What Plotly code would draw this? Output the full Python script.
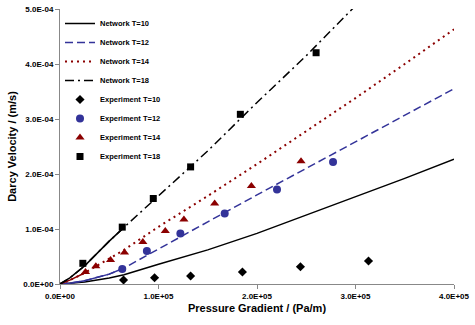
import plotly.graph_objects as go

# network model curves (pressure gradient Pa/m -> darcy velocity m/s)
NET_X = [0, 0.1e5, 0.25e5, 0.5e5, 0.65e5, 1.0e5, 1.5e5, 2.0e5, 2.5e5, 3.0e5, 3.5e5, 4.0e5]
NET_T10 = [0, 0.01e-4, 0.035e-4, 0.11e-4, 0.17e-4, 0.36e-4, 0.62e-4, 0.92e-4, 1.25e-4, 1.58e-4, 1.92e-4, 2.27e-4]
NET_T12 = [0, 0.015e-4, 0.06e-4, 0.18e-4, 0.29e-4, 0.63e-4, 1.13e-4, 1.62e-4, 2.1e-4, 2.58e-4, 3.06e-4, 3.55e-4]
NET_T14 = [0, 0.07e-4, 0.2e-4, 0.46e-4, 0.62e-4, 1.04e-4, 1.6e-4, 2.18e-4, 2.78e-4, 3.38e-4, 4.0e-4, 4.63e-4]
NET_X18 = [0, 0.1e5, 0.25e5, 0.5e5, 0.65e5, 1.0e5, 1.5e5, 2.0e5, 2.5e5, 3.0e5]
NET_T18 = [0, 0.11e-4, 0.33e-4, 0.78e-4, 1.03e-4, 1.6e-4, 2.42e-4, 3.3e-4, 4.15e-4, 5.06e-4]

# experiments
EXP10_X = [0.645e5, 0.96e5, 1.326e5, 1.852e5, 2.441e5, 3.132e5]
EXP10_Y = [0.073e-4, 0.114e-4, 0.145e-4, 0.218e-4, 0.314e-4, 0.417e-4]
EXP12_X = [0.632e5, 0.882e5, 1.222e5, 1.672e5, 2.203e5, 2.772e5]
EXP12_Y = [0.272e-4, 0.599e-4, 0.92e-4, 1.283e-4, 1.719e-4, 2.22e-4]
EXP14_X = [0.259e5, 0.364e5, 0.513e5, 0.655e5, 0.841e5, 1.069e5, 1.258e5, 1.57e5, 1.943e5, 2.447e5]
EXP14_Y = [0.218e-4, 0.321e-4, 0.436e-4, 0.575e-4, 0.762e-4, 0.962e-4, 1.174e-4, 1.465e-4, 1.784e-4, 2.232e-4]
EXP18_X = [0.232e5, 0.632e5, 0.947e5, 1.326e5, 1.831e5, 2.6e5]
EXP18_Y = [0.376e-4, 1.034e-4, 1.555e-4, 2.129e-4, 3.085e-4, 4.205e-4]

X_TICKS = [0, 1e5, 2e5, 3e5, 4e5]
X_LABELS = ["0.0E+00", "1.0E+05", "2.0E+05", "3.0E+05", "4.0E+05"]
Y_TICKS = [0, 1e-4, 2e-4, 3e-4, 4e-4, 5e-4]
Y_LABELS = ["0.0E+00", "1.0E-04", "2.0E-04", "3.0E-04", "4.0E-04", "5.0E-04"]

BLUE = "#333399"
RED = "#8b0000"
FONT = "Liberation Sans, Arial, sans-serif"

fig = go.Figure()

# (name, x, y, colour, dash, width, x up to which the dense model points look solid)
nets = [
    ("Network T=10", NET_X, NET_T10, "black", "solid", 1.5, 0),
    ("Network T=12", NET_X, NET_T12, BLUE, "8px,4px", 1.5, 0.65e5),
    ("Network T=14", NET_X, NET_T14, RED, "2px,4px", 2, 0.25e5),
    ("Network T=18", NET_X18, NET_T18, "black", "9px,4px,2px,4px", 1.5, 0.65e5),
]
for name, xs, ys, col, dash, w, solid_to in nets:
    fig.add_trace(go.Scatter(x=xs, y=ys, name=name, mode="lines",
                             line=dict(color=col, width=w, dash=dash)))
    if solid_to > 0:
        k = [i for i, v in enumerate(xs) if v <= solid_to]
        fig.add_trace(go.Scatter(x=[xs[i] for i in k], y=[ys[i] for i in k], mode="lines",
                                 showlegend=False, hoverinfo="skip",
                                 line=dict(color=col, width=1.5)))

exps = [
    ("Experiment T=10", EXP10_X, EXP10_Y, "black", "diamond", 7),
    ("Experiment T=12", EXP12_X, EXP12_Y, BLUE, "circle", 8),
    ("Experiment T=14", EXP14_X, EXP14_Y, RED, "triangle-up", 8),
    ("Experiment T=18", EXP18_X, EXP18_Y, "black", "square", 7),
]
for name, xs, ys, col, sym, sz in exps:
    fig.add_trace(go.Scatter(x=xs, y=ys, name=name, mode="markers",
                             marker=dict(color=col, symbol=sym, size=sz)))

axis_common = dict(showgrid=False, zeroline=False, showline=True, linecolor="#888888",
                   linewidth=1, ticks="outside", ticklen=4, tickcolor="#888888",
                   automargin=False,
                   tickfont=dict(family=FONT, size=8, color="black", weight="bold"))
fig.update_xaxes(range=[0, 4e5], tickvals=X_TICKS, ticktext=X_LABELS,
                 title=dict(text="Pressure Gradient / (Pa/m)", standoff=4,
                            font=dict(family=FONT, size=11, color="black", weight="bold")),
                 **axis_common)
fig.update_yaxes(range=[0, 5e-4], tickvals=Y_TICKS, ticktext=Y_LABELS,
                 title=dict(text="Darcy Velocity / (m/s)", standoff=4,
                            font=dict(family=FONT, size=11, color="black", weight="bold")),
                 **axis_common)

fig.update_layout(
    width=475, height=325,
    margin=dict(l=60, r=21, t=9, b=41),
    paper_bgcolor="white", plot_bgcolor="white",
    legend=dict(x=0.0, y=1.0, xanchor="left", yanchor="top", bgcolor="rgba(0,0,0,0)",
                font=dict(family=FONT, size=7.5, color="black", weight="bold")),
)

# page body has a default 8px margin; drop it so the figure fills the window
fig.write_html("out.html", config={"displayModeBar": False},
               post_script="document.body.style.margin = '0';")
